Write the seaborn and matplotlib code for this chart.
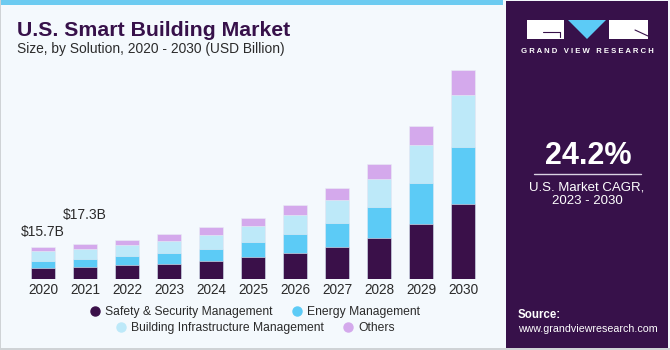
import numpy as np
import pandas as pd
import matplotlib
matplotlib.use("Agg")
import matplotlib.pyplot as plt
import seaborn as sns
from matplotlib.patches import Rectangle, Polygon
from matplotlib.lines import Line2D
from matplotlib.colors import LinearSegmentedColormap

# ---------------- data ----------------
years = ["2020", "2021", "2022", "2023", "2024", "2025", "2026", "2027", "2028", "2029", "2030"]
safety = [5.0, 5.75, 6.5, 7.3, 8.6, 10.6, 12.8, 15.8, 20.1, 27.2, 37.3]
energy = [3.8, 4.15, 4.8, 5.5, 6.1, 7.8, 9.5, 11.8, 15.4, 20.2, 27.9]
infra = [4.65, 4.6, 5.3, 6.0, 7.0, 7.5, 9.3, 11.6, 14.2, 18.9, 26.1]
others = [2.25, 2.8, 2.8, 3.3, 3.7, 4.2, 4.8, 6.0, 7.5, 9.6, 12.6]
series_names = ["Safety & Security Management", "Energy Management",
                "Building Infrastructure Management", "Others"]
label_years = ["2020", "2021"]
label_texts = ["$15.7B", "$17.3B"]

colors = ["#3a1049", "#5ccbf6", "#bde9f9", "#d4a9ec"]

W, H = 670, 350
sns.set_theme(style="white")
plt.rcParams["font.family"] = ["Liberation Sans", "DejaVu Sans"]

fig = plt.figure(figsize=(W / 100, H / 100), dpi=100)
fig.patch.set_facecolor("#f4f9fd")

def fx(px):
    return px / W

def fy(py):
    return 1 - py / H

# borders / stripe
fig.patches.append(Rectangle((0, fy(5)), fx(503), 5 / H, transform=fig.transFigure,
                             facecolor="#6ccbf1", edgecolor="none", zorder=0))
fig.patches.append(Rectangle((0, 0), fx(1.2), 1, transform=fig.transFigure,
                             facecolor="#cfd3d6", edgecolor="none", zorder=0))
fig.patches.append(Rectangle((0, 0), 1, 2.5 / H, transform=fig.transFigure,
                             facecolor="#cfd3d6", edgecolor="none", zorder=0))

# ---------------- bars ----------------
df = pd.DataFrame({"year": years, "safety": safety, "energy": energy,
                   "infra": infra, "others": others})
layers = [df["safety"], df["safety"] + df["energy"],
          df["safety"] + df["energy"] + df["infra"],
          df["safety"] + df["energy"] + df["infra"] + df["others"]]

base_px, top_px = 278.5, 60
scale = 2.01  # px per billion
ax = fig.add_axes([fx(10), fy(base_px), fx(496) - fx(10), (base_px - top_px) / H])
ax.set_facecolor("none")
for i in range(3, -1, -1):
    d = pd.DataFrame({"year": years, "v": layers[i]})
    sns.barplot(data=d, x="year", y="v", order=years, color=colors[i], saturation=1,
                width=0.58, errorbar=None, ax=ax, edgecolor="#e9eef5", linewidth=0.4)
ax.set_xlim(-0.786, 10.786)
ax.set_ylim(0, (base_px - top_px) / scale)
ax.set_xlabel("")
ax.set_ylabel("")
ax.set_yticks([])
for s in ax.spines.values():
    s.set_visible(False)
ax.tick_params(axis="x", length=0, pad=3.5, labelsize=9.8, labelcolor="#2b2b2b")

offsets = [10.5, 20.5]
for yr, txt, off in zip(label_years, label_texts, offsets):
    i = years.index(yr)
    ax.annotate(txt, (i, layers[3][i]), xytext=(0, off), textcoords="offset points",
                ha="center", va="center", fontsize=10, color="#2b2b2b")

# ---------------- titles ----------------
fig.text(fx(17), fy(35.5), "U.S. Smart Building Market", fontsize=15.3, fontweight="bold",
         color="#37114a", va="baseline", ha="left")
fig.text(fx(17), fy(52.5), "Size, by Solution, 2020 - 2030 (USD Billion)", fontsize=9.9,
         color="#2b2b2b", va="baseline", ha="left")

# ---------------- legend ----------------
def handle(c):
    return Line2D([], [], marker="o", linestyle="none", markersize=6.5,
                  markerfacecolor=c, markeredgecolor=c)

leg_kw = dict(frameon=False, ncol=2, fontsize=8.7, handletextpad=0.35, columnspacing=1.6,
              handlelength=0.9, loc="center", labelcolor="#2b2b2b", borderpad=0)
l1 = fig.legend([handle(colors[0]), handle(colors[1])], series_names[:2],
                bbox_to_anchor=(fx(255), fy(312.3)), **leg_kw)
l2 = fig.legend([handle(colors[2]), handle(colors[3])], series_names[2:],
                bbox_to_anchor=(fx(255), fy(328.3)), **leg_kw)

# ---------------- right panel ----------------
px0, px1 = 506, 668
fig.patches.append(Rectangle((fx(px0), fy(347.5)), fx(px1) - fx(px0), (347.5 - 1) / H,
                             transform=fig.transFigure, facecolor="#37114a",
                             edgecolor="none", zorder=0))
gax = fig.add_axes([fx(px0), fy(347.5), fx(px1) - fx(px0), (347.5 - 262) / H])
gax.set_axis_off()
cmap = LinearSegmentedColormap.from_list("g", [(0, "#37114a"), (0.22, "#3f2060"),
                                               (0.25, "#4d3f80"), (0.55, "#5276b2"),
                                               (1.0, "#62c4ee")])
grad = np.linspace(0, 1, 200).reshape(-1, 1)
gax.imshow(grad, aspect="auto", cmap=cmap, extent=[0, 1, 1, 0])
gax.set_xlim(0, 1)
gax.set_ylim(1, 0)
for k in range(1, 14):
    yy = 0.25 + 0.75 * (k / 13) ** 1.4
    gax.plot([0, 1], [yy, yy + 0.02 * np.sin(k)], color="#a9d0f0", lw=0.4, alpha=0.4)
for k in range(-6, 20):
    x0 = k / 12
    gax.plot([0.5 + (x0 - 0.5) * 0.35, x0], [0.25, 1.0], color="#a9d0f0", lw=0.4, alpha=0.35)

# logo
def rect(x0, y0, x1, y1, c):
    fig.patches.append(Rectangle((fx(x0), fy(y1)), fx(x1) - fx(x0), (y1 - y0) / H,
                                 transform=fig.transFigure, facecolor=c, edgecolor="none",
                                 zorder=3))

rect(527, 20, 564, 39, "white")
fig.lines.append(Line2D([fx(543), fx(560), fx(560)], [fy(31.5), fy(31.5), fy(37)],
                        transform=fig.transFigure, color="#37114a", lw=0.8, zorder=4))
fig.patches.append(Polygon([(fx(568), fy(20)), (fx(606), fy(20)), (fx(587), fy(39))],
                           closed=True, transform=fig.transFigure, facecolor="#5ccbf6",
                           edgecolor="none", zorder=3))
rect(609, 20, 648, 39, "white")
fig.lines.append(Line2D([fx(635), fx(648)], [fy(30), fy(36)], transform=fig.transFigure,
                        color="#37114a", lw=0.8, zorder=4))
fig.text(fx(587.5), fy(51.5), "G R A N D   V I E W   R E S E A R C H", fontsize=5.6,
         fontweight="bold", color="white", ha="center", va="center")

fig.text(fx(588), fy(155.5), "24.2%", fontsize=22, fontweight="bold", color="white",
         ha="center", va="center")
fig.lines.append(Line2D([fx(534), fx(641)], [fy(173.5), fy(173.5)], transform=fig.transFigure,
                        color="#d9d2e2", lw=1.0))
fig.text(fx(587), fy(187.5), "U.S. Market CAGR,", fontsize=9.5, color="white",
         ha="center", va="center")
fig.text(fx(587), fy(201), "2023 - 2030", fontsize=9.5, color="white",
         ha="center", va="center")
fig.text(fx(518), fy(315), "Source:", fontsize=8.3, fontweight="bold", color="white",
         ha="left", va="center")
fig.text(fx(518), fy(329.5), "www.grandviewresearch.com", fontsize=7.7, color="white",
         ha="left", va="center")

fig.savefig("out.png", dpi=100, facecolor=fig.get_facecolor())
